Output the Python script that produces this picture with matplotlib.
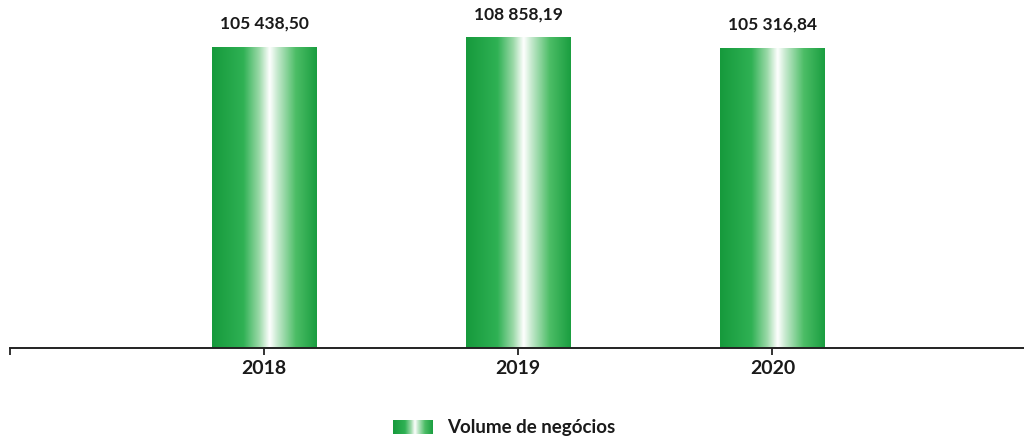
import numpy as np
import matplotlib
matplotlib.use("Agg")
import matplotlib.pyplot as plt
from matplotlib.colors import LinearSegmentedColormap

years = ["2018", "2019", "2020"]
volume = [105438.50, 108858.19, 105316.84]
value_labels = ["105 438,50", "108 858,19", "105 316,84"]
legend_label = "Volume de negócios"

plt.rcParams["font.family"] = ["Lato", "DejaVu Sans"]

green_cmap = LinearSegmentedColormap.from_list(
    "bar_green",
    [(0.0, "#169a3c"), (0.30, "#2fb154"), (0.45, "#9bd9a8"),
     (0.55, "#ffffff"), (0.62, "#c8ead0"), (0.80, "#4cbd66"),
     (1.0, "#1a9e40")],
)
gradient = np.linspace(0, 1, 256).reshape(1, -1)


def fill_gradient(ax, patch):
    x0, y0 = patch.get_x(), patch.get_y()
    w, h = patch.get_width(), patch.get_height()
    im = ax.imshow(gradient, cmap=green_cmap, aspect="auto",
                   extent=(x0, x0 + w, y0, y0 + h), zorder=2,
                   interpolation="bicubic")
    im.set_clip_path(patch)


fig = plt.figure(figsize=(10.24, 4.41), dpi=100)
ax = fig.add_axes([10 / 1024, 1 - 348 / 441, 1014 / 1024, 348 / 441])

x = np.arange(len(years))
bars = ax.bar(x, volume, width=0.41, color="none", edgecolor="none", zorder=1)
for bar in bars:
    fill_gradient(ax, bar)

for xi, val, lab in zip(x, volume, value_labels):
    ax.annotate(lab, (xi, val), xytext=(0, 11), textcoords="offset points",
                ha="center", va="bottom", fontsize=12.5, fontweight="bold",
                color="#1a1a1a")

ax.set_xlim(-1.0, 2.99)
ax.set_ylim(0, 122000)
ax.set_xticks([-1, 0, 1, 2])
ax.set_xticklabels([""] + years, fontsize=14, fontweight="bold",
                   color="#1a1a1a")
ax.tick_params(axis="x", length=5, width=1.3, color="#222222", pad=4)
ax.set_yticks([])
for side in ["left", "right", "top"]:
    ax.spines[side].set_visible(False)
ax.spines["bottom"].set_linewidth(1.4)
ax.spines["bottom"].set_color("#222222")

# legend: gradient swatch + label
lax = fig.add_axes([393 / 1024, 1 - 434 / 441, 40 / 1024, 14 / 441])
lax.imshow(gradient, cmap=green_cmap, aspect="auto", interpolation="bicubic")
lax.axis("off")
fig.text(447 / 1024, 1 - 427 / 441, legend_label, ha="left", va="center",
         fontsize=13.5, fontweight="bold", color="#1a1a1a")

fig.savefig("out.png", dpi=100)
plt.close(fig)
